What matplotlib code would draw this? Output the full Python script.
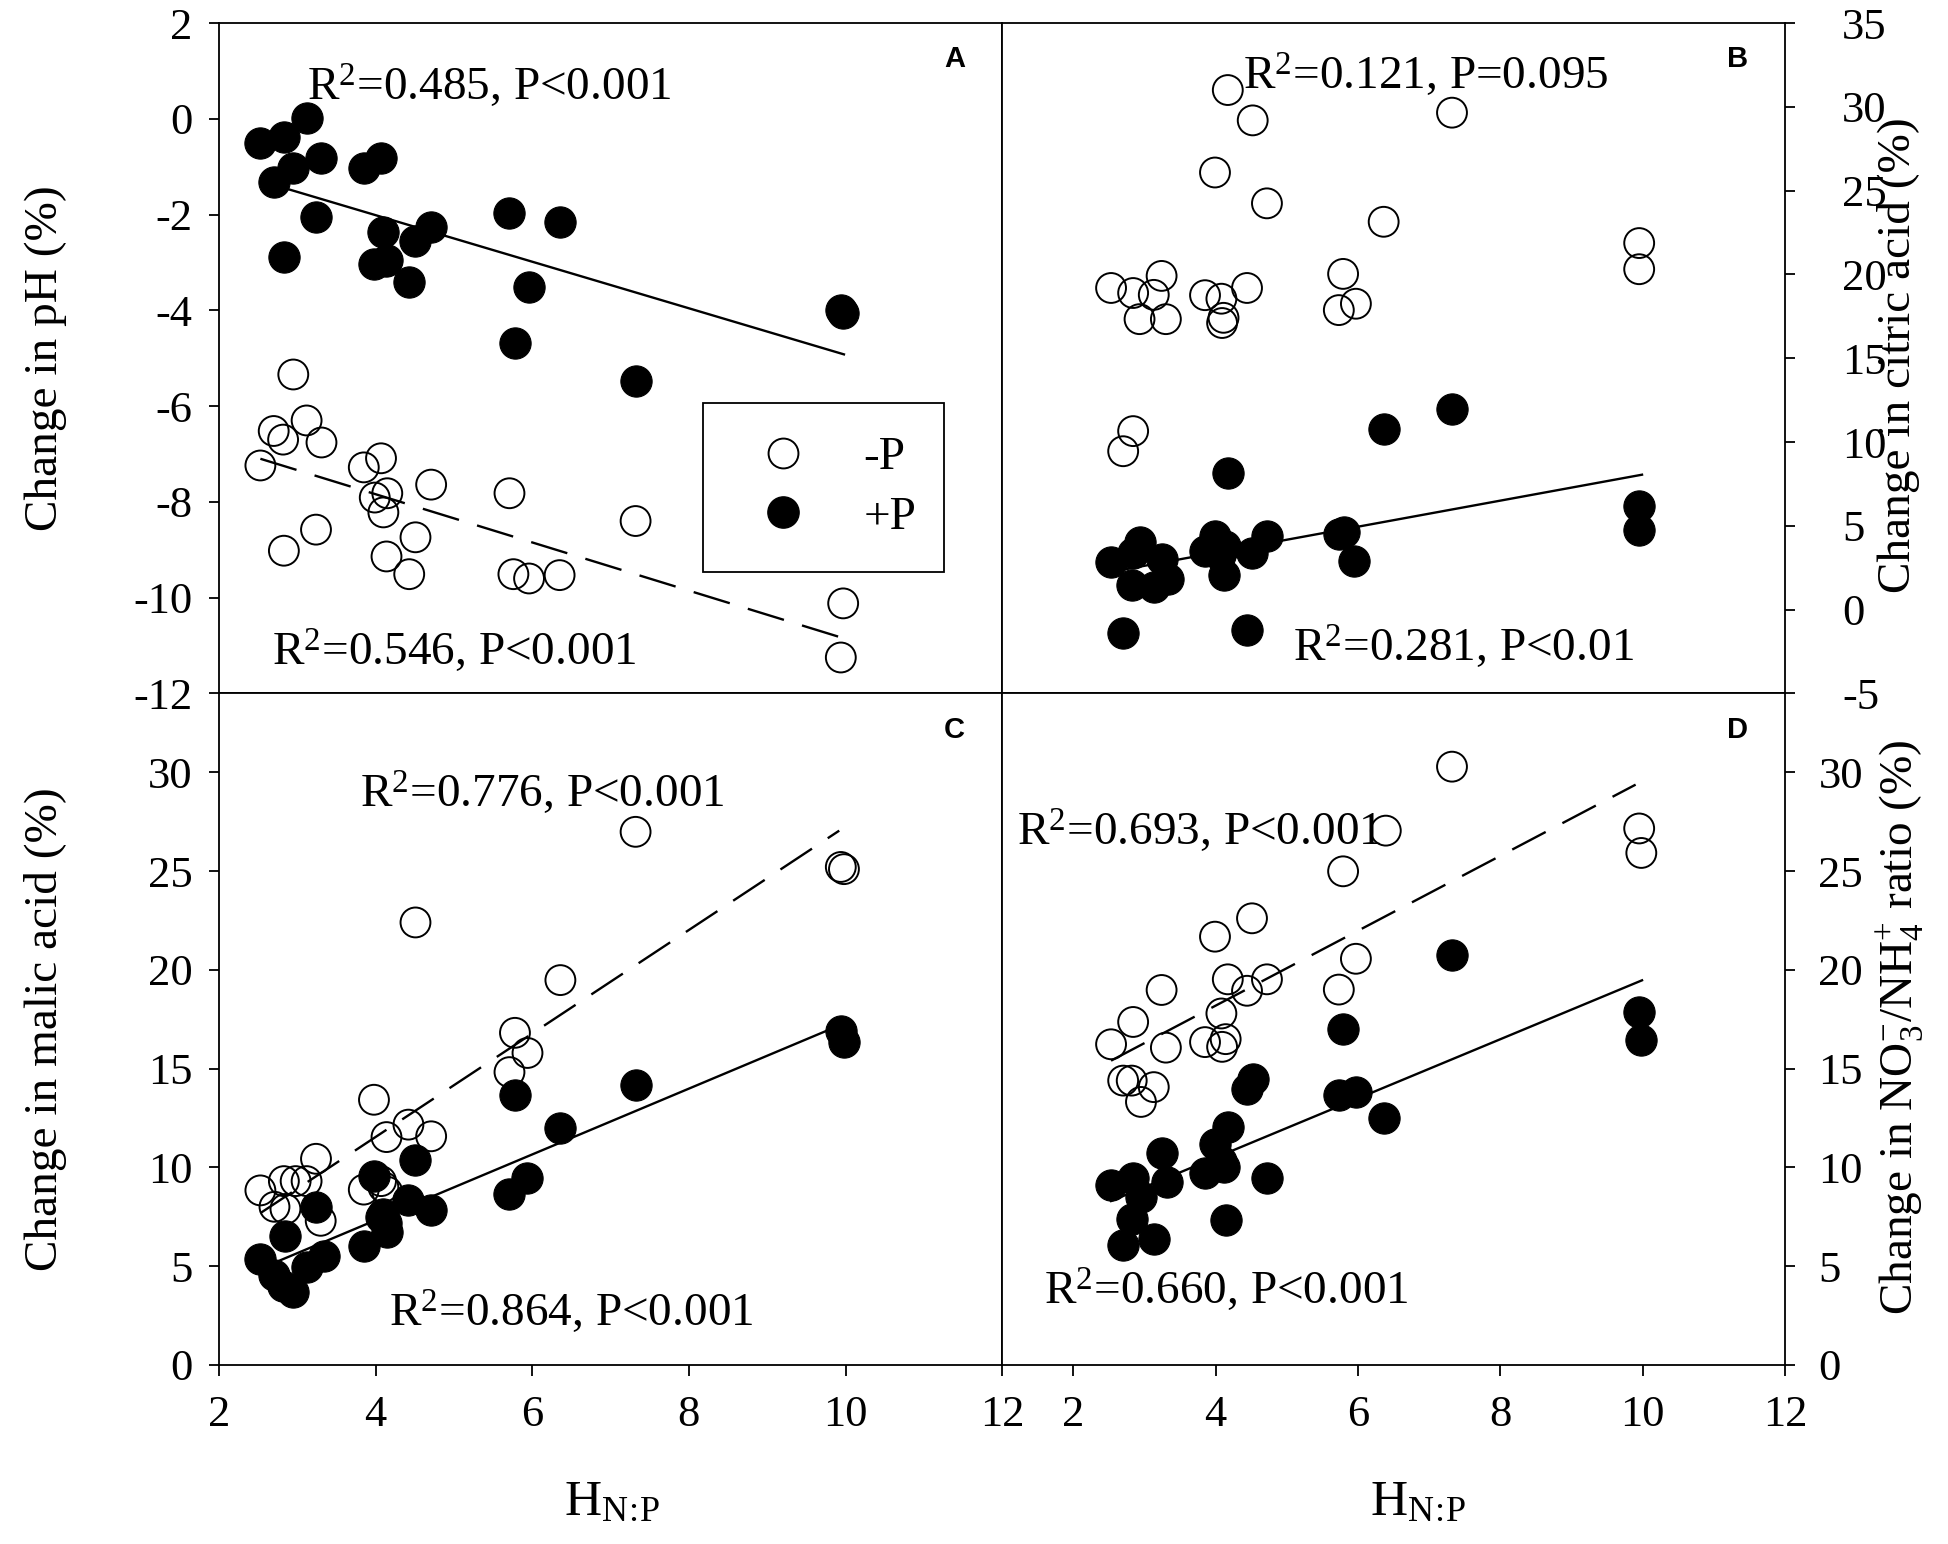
import matplotlib
matplotlib.use('Agg')
import matplotlib.pyplot as plt
from matplotlib.lines import Line2D

plt.rcParams['font.family'] = ['Liberation Serif', 'DejaVu Serif']
plt.rcParams['mathtext.fontset'] = 'custom'
plt.rcParams['mathtext.rm'] = 'Liberation Serif'
plt.rcParams['mathtext.it'] = 'Liberation Serif:italic'
plt.rcParams['mathtext.bf'] = 'Liberation Serif:bold'
plt.rcParams['axes.unicode_minus'] = False

# ---------------- data ----------------
# Panel A: change in pH
a_minusP_x = [2.95, 3.12, 2.70, 2.82, 3.31, 2.53, 3.85, 4.07, 4.71, 3.99, 4.15, 4.10,
              5.71, 7.32, 3.24, 2.83, 4.51, 4.14, 4.43, 5.76, 5.96, 6.35, 9.97, 9.94]
a_minusP_y = [-5.34, -6.30, -6.52, -6.70, -6.76, -7.24, -7.28, -7.09, -7.64, -7.91, -7.82, -8.22,
              -7.82, -8.40, -8.58, -9.02, -8.74, -9.14, -9.51, -9.51, -9.60, -9.53, -10.12, -11.25]
a_plusP_x = [2.53, 2.83, 3.13, 2.95, 3.30, 2.70, 3.24, 2.83, 3.85, 4.07, 4.10, 3.98,
             4.15, 4.51, 4.71, 4.43, 5.71, 6.36, 5.96, 5.78, 7.32, 9.97, 4.14, 9.94]
a_plusP_y = [-0.50, -0.39, 0.02, -1.02, -0.81, -1.32, -2.06, -2.89, -1.02, -0.81, -2.37, -3.04,
             -2.95, -2.55, -2.27, -3.40, -1.97, -2.15, -3.52, -4.69, -5.48, -4.05, -2.98, -4.00]
a_fit_minusP_x = [2.53, 9.92]
a_fit_minusP_y = [-7.10, -10.82]
a_fit_plusP_x = [2.70, 9.98]
a_fit_plusP_y = [-1.38, -4.92]

# Panel B: change in citric acid
b_minusP_x = [4.17, 4.52, 7.32, 3.99, 4.72, 6.36, 9.95, 9.95, 5.79, 2.53, 2.84, 3.24,
              3.13, 2.93, 3.30, 3.85, 4.44, 4.08, 4.11, 4.09, 5.73, 5.97, 2.84, 2.70]
b_minusP_y = [31.0, 29.19, 29.65, 26.08, 24.24, 23.14, 21.87, 20.31, 20.03, 19.19, 18.89, 19.91,
              18.78, 17.33, 17.33, 18.76, 19.19, 18.55, 17.41, 17.10, 17.87, 18.25, 10.65, 9.45]
b_plusP_x = [7.32, 6.36, 4.17, 9.95, 9.95, 5.73, 5.80, 5.95, 4.72, 4.51, 3.99, 3.85,
             4.11, 4.44, 2.70, 2.53, 2.93, 2.84, 3.24, 2.83, 3.13, 3.33, 4.06, 4.13]
b_plusP_y = [11.98, 10.78, 8.15, 6.19, 4.74, 4.53, 4.66, 2.92, 4.40, 3.38, 4.40, 3.51,
             2.06, -1.21, -1.41, 2.82, 4.02, 3.38, 3.00, 1.47, 1.34, 1.80, 3.26, 3.77]
b_fit_plusP_x = [2.53, 9.99]
b_fit_plusP_y = [2.25, 8.05]

# Panel C: change in malic acid
c_minusP_x = [7.32, 9.94, 9.98, 4.51, 6.36, 5.78, 5.94, 5.71, 3.98, 4.42, 4.71, 4.14,
              3.24, 2.53, 2.83, 2.98, 3.12, 2.71, 2.85, 3.30, 3.85, 4.07, 4.15, 4.10]
c_minusP_y = [26.99, 25.21, 25.10, 22.40, 19.48, 16.81, 15.79, 14.82, 13.42, 12.16, 11.57, 11.53,
              10.43, 8.83, 9.30, 9.30, 9.30, 8.00, 7.89, 7.29, 8.87, 9.30, 8.76, 9.00]
c_plusP_x = [9.94, 9.98, 7.32, 5.78, 6.36, 5.94, 5.71, 4.51, 3.98, 4.42, 4.71, 4.10,
             4.15, 3.85, 3.24, 2.85, 2.53, 3.34, 3.12, 2.71, 2.82, 2.95, 4.07, 4.14]
c_plusP_y = [16.88, 16.34, 14.17, 13.67, 12.00, 9.47, 8.65, 10.38, 9.56, 8.33, 7.83, 7.61,
             6.70, 5.99, 8.00, 6.53, 5.36, 5.51, 4.97, 4.54, 4.00, 3.67, 7.50, 7.20]
c_fit_minusP_x = [2.53, 9.92]
c_fit_minusP_y = [7.68, 27.05]
c_fit_plusP_x = [2.70, 9.96]
c_fit_plusP_y = [5.15, 17.25]

# Panel D: change in NO3-/NH4+ ratio
d_minusP_x = [7.32, 6.39, 9.95, 9.98, 5.79, 4.51, 3.99, 5.97, 4.72, 4.17, 4.44, 3.24,
              5.73, 4.08, 2.84, 2.53, 3.30, 3.85, 4.14, 4.09, 2.70, 2.82, 3.13, 2.95]
d_minusP_y = [30.29, 27.05, 27.16, 25.92, 24.99, 22.61, 21.68, 20.56, 19.52, 19.52, 18.94, 18.98,
              19.00, 17.79, 17.36, 16.23, 16.06, 16.34, 16.49, 16.10, 14.39, 14.39, 14.06, 13.31]
d_plusP_x = [7.32, 9.95, 9.98, 5.79, 4.53, 4.44, 5.73, 5.97, 6.36, 4.17, 3.99, 3.24,
             3.85, 4.11, 4.72, 3.31, 2.53, 2.84, 2.95, 2.83, 4.15, 2.70, 3.13, 4.07]
d_plusP_y = [20.77, 17.85, 16.44, 16.99, 14.45, 13.96, 13.67, 13.80, 12.48, 12.05, 11.18, 10.71,
             9.69, 10.00, 9.45, 9.23, 9.08, 9.45, 8.48, 7.39, 7.31, 6.05, 6.38, 10.30]
d_fit_minusP_x = [2.53, 9.90]
d_fit_minusP_y = [15.40, 29.38]
d_fit_plusP_x = [2.53, 9.99]
d_fit_plusP_y = [8.29, 19.47]

series_labels = ['-P', '+P']
xticks = [2, 4, 6, 8, 10, 12]
a_yticks = [-12, -10, -8, -6, -4, -2, 0, 2]
b_yticks = [-5, 0, 5, 10, 15, 20, 25, 30, 35]
cd_yticks = [0, 5, 10, 15, 20, 25, 30]

# ---------------- styling ----------------
TICK_FS = 32
ANN_FS = 34
LAB_FS = 34
LW = 1.7
DASH = (0, (16, 8))
MS_OPEN = 21.5 ** 2
MS_FILL = 22.5 ** 2

fig = plt.figure(figsize=(19.49, 15.44), dpi=100)
L, M, R = 0.1123, 0.5142, 0.9159
T, Mi, B = 0.9851, 0.5509, 0.1161
axA = fig.add_axes([L, Mi, M - L, T - Mi])
axB = fig.add_axes([M, Mi, R - M, T - Mi])
axC = fig.add_axes([L, B, M - L, Mi - B])
axD = fig.add_axes([M, B, R - M, Mi - B])

for ax in (axA, axB, axC, axD):
    for s in ax.spines.values():
        s.set_linewidth(1.3)
        s.set_color('black')
    ax.tick_params(direction='out', length=7, width=1.3, labelsize=TICK_FS, colors='black')


def draw(ax, xo, yo, xf, yf, fo=None, fd=None):
    if fo is not None:
        ax.plot(fo[0], fo[1], color='black', lw=LW, ls=DASH, zorder=2)
    if fd is not None:
        ax.plot(fd[0], fd[1], color='black', lw=LW, ls='-', zorder=2)
    ax.scatter(xo, yo, s=MS_OPEN, facecolors='none', edgecolors='black', linewidths=1.4, zorder=3)
    ax.scatter(xf, yf, s=MS_FILL, facecolors='black', edgecolors='black', linewidths=0.8, zorder=4)


draw(axA, a_minusP_x, a_minusP_y, a_plusP_x, a_plusP_y,
     (a_fit_minusP_x, a_fit_minusP_y), (a_fit_plusP_x, a_fit_plusP_y))
draw(axB, b_minusP_x, b_minusP_y, b_plusP_x, b_plusP_y,
     None, (b_fit_plusP_x, b_fit_plusP_y))
draw(axC, c_minusP_x, c_minusP_y, c_plusP_x, c_plusP_y,
     (c_fit_minusP_x, c_fit_minusP_y), (c_fit_plusP_x, c_fit_plusP_y))
draw(axD, d_minusP_x, d_minusP_y, d_plusP_x, d_plusP_y,
     (d_fit_minusP_x, d_fit_minusP_y), (d_fit_plusP_x, d_fit_plusP_y))

# limits / ticks
axA.set_xlim(2, 12); axA.set_ylim(-12, 2)
axC.set_xlim(2, 12); axC.set_ylim(0, 34)
axB.set_xlim(1, 12); axB.set_ylim(-5, 35)
axD.set_xlim(1, 12); axD.set_ylim(0, 34)

axA.set_yticks(a_yticks)
axA.set_xticks([])

axB.set_xticks([])
axB.yaxis.tick_right()
axB.set_yticks(b_yticks)

axC.set_xticks(xticks)
axC.set_yticks(cd_yticks)

axD.set_xticks(xticks)
axD.yaxis.tick_right()
axD.set_yticks(cd_yticks)

axA.tick_params(axis='y', which='both', pad=12)
axC.tick_params(axis='y', which='both', pad=12)
axB.tick_params(axis='y', which='both', pad=34)
axD.tick_params(axis='y', which='both', pad=17)
axC.tick_params(axis='x', which='both', pad=14, length=8)
axD.tick_params(axis='x', which='both', pad=14, length=8)

# annotations
axA.text(3.12, 0.37, r'R$^2$=0.485, P<0.001', fontsize=ANN_FS, ha='left', va='baseline')
axA.text(2.684, -11.43, r'R$^2$=0.546, P<0.001', fontsize=ANN_FS, ha='left', va='baseline')
axB.text(4.39, 31.05, r'R$^2$=0.121, P=0.095', fontsize=ANN_FS, ha='left', va='baseline')
axB.text(5.08, -3.12, r'R$^2$=0.281, P<0.01', fontsize=ANN_FS, ha='left', va='baseline')
axC.text(3.80, 28.23, r'R$^2$=0.776, P<0.001', fontsize=ANN_FS, ha='left', va='baseline')
axC.text(4.17, 1.94, r'R$^2$=0.864, P<0.001', fontsize=ANN_FS, ha='left', va='baseline')
axD.text(1.21, 26.28, r'R$^2$=0.693, P<0.001', fontsize=ANN_FS, ha='left', va='baseline')
axD.text(1.586, 3.02, r'R$^2$=0.660, P<0.001', fontsize=ANN_FS, ha='left', va='baseline')

# panel letters
for (px, py, t) in [(0.4898, 0.9619, 'A'), (0.8914, 0.9619, 'B'),
                    (0.4898, 0.5275, 'C'), (0.8914, 0.5275, 'D')]:
    fig.text(px, py, t, fontsize=21, fontweight='bold', family=['Liberation Sans', 'DejaVu Sans'],
             ha='center', va='center')

# axis labels
fig.text(0.0235, 0.7681, 'Change in pH (%)', fontsize=LAB_FS, rotation=90, ha='center', va='center')
fig.text(0.0235, 0.3335, 'Change in malic acid (%)', fontsize=LAB_FS, rotation=90, ha='center', va='center')
fig.text(0.9740, 0.7700, 'Change in citric acid (%)', fontsize=LAB_FS, rotation=90, ha='center', va='center')
fig.text(0.9750, 0.3345, r'Change in NO$_3^{-}$/NH$_4^{+}$ ratio (%)', fontsize=LAB_FS,
         rotation=90, ha='center', va='center')
fig.text(0.3140, 0.0188, r'H$_{\mathrm{N}\!:\!\mathrm{P}}$', fontsize=37, ha='center', va='baseline')
fig.text(0.7276, 0.0188, r'H$_{\mathrm{N}\!:\!\mathrm{P}}$', fontsize=37, ha='center', va='baseline')

# legend
handles = [Line2D([], [], ls='none', marker='o', markersize=21.5, markerfacecolor='none',
                  markeredgecolor='black', markeredgewidth=1.4),
           Line2D([], [], ls='none', marker='o', markersize=22.5, markerfacecolor='black',
                  markeredgecolor='black')]
leg = axA.legend(handles, series_labels, loc='center', mode='expand',
                 bbox_to_anchor=(0.6177, 0.1802, 0.3080, 0.2537), fontsize=34,
                 frameon=True, fancybox=False, shadow=False, framealpha=1,
                 edgecolor='black', borderpad=0.7, labelspacing=0.35,
                 handlelength=2.0, handletextpad=0.7, borderaxespad=0)
leg.get_frame().set_linewidth(1.3)

fig.savefig('out.png', dpi=100, facecolor='white')
